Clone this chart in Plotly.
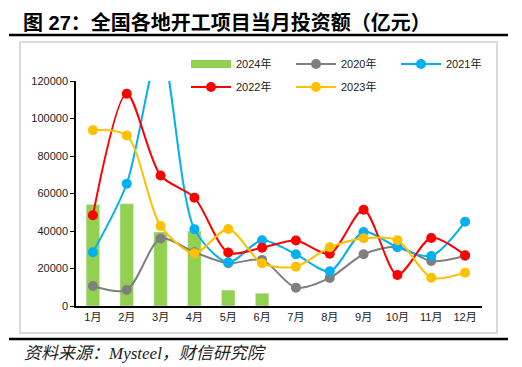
import plotly.graph_objects as go

months = ["1月", "2月", "3月", "4月", "5月", "6月", "7月", "8月", "9月", "10月", "11月", "12月"]
y2024 = [54100, 54500, 39500, 40000, 8500, 6800, None, None, None, None, None, None]
y2020 = [10700, 8500, 36000, 28700, 22800, 24600, 9800, 15000, 27600, 31600, 24000, 26700]
y2021 = [28700, 65200, 138000, 41000, 23300, 35100, 27600, 18500, 39500, 31300, 26700, 44900]
y2022 = [48400, 113200, 69600, 57800, 28500, 31100, 34900, 27900, 51300, 16600, 36300, 27100]
y2023 = [93800, 90900, 42700, 28100, 41100, 22800, 21000, 31300, 36100, 35100, 15100, 17800]

W, H = 522, 367
L, R, T, B = 76, 482, 81, 306
pw, ph = R - L, B - T

def px(x):
    return (x - L) / pw

def py(y):
    return (B - y) / ph

def cx(x):
    return x / W

def cy(y):
    return 1 - y / H

FONT = "Liberation Sans, Arial, Noto Sans CJK SC, sans-serif"
GREEN = "#92D050"

fig = go.Figure()
fig.add_trace(go.Bar(x=months, y=y2024, name="2024年", marker_color=GREEN,
                     showlegend=False, legendgroup="g2024"))
# legend entry for the bars, drawn as a wide green key like the original
fig.add_trace(go.Scatter(x=[months[0]], y=[None], name="2024年", mode="lines",
                         line=dict(color=GREEN, width=8), legend="legend",
                         legendgroup="g2024", hoverinfo="skip"))

def line(name, ys, color, leg):
    fig.add_trace(go.Scatter(x=months, y=ys, name=name, mode="lines+markers",
                             line=dict(color=color, width=2, shape="spline", smoothing=0.8),
                             marker=dict(color=color, size=10), legend=leg))

line("2020年", y2020, "#7F7F7F", "legend")
line("2021年", y2021, "#00B0F0", "legend")
line("2022年", y2022, "#FF0000", "legend2")
line("2023年", y2023, "#FFC000", "legend2")

legcommon = dict(orientation="h", xanchor="left", yanchor="middle", bgcolor="rgba(0,0,0,0)",
                 font=dict(family=FONT, size=11, color="#222"), entrywidth=50,
                 itemwidth=40, traceorder="normal", xref="container", yref="container")

fig.update_layout(
    width=W, height=H,
    margin=dict(l=L, r=W - R, t=T, b=H - B, pad=0, autoexpand=False),
    paper_bgcolor="white", plot_bgcolor="white",
    bargap=0.6,
    showlegend=True,
    legend=dict(x=cx(186), y=cy(64), **legcommon),
    legend2=dict(x=cx(186), y=cy(87), **legcommon),
    xaxis=dict(range=[-0.5, 11.5], showline=True, linecolor="black", linewidth=1.5, ticks="",
               tickfont=dict(family=FONT, size=11, color="#222"), showgrid=False),
    yaxis=dict(range=[0, 120000], dtick=20000, tickformat="d", showline=True,
               linecolor="black", linewidth=1.5, ticks="outside", ticklen=4,
               tickcolor="black", showgrid=False, zeroline=False,
               tickfont=dict(family=FONT, size=11, color="#222")),
    shapes=[
        dict(type="rect", xref="paper", yref="paper", x0=px(20), x1=px(497), y0=py(333), y1=py(42),
             line=dict(color="#D9D9D9", width=2), layer="below"),
        dict(type="line", xref="paper", yref="paper", x0=px(9), x1=px(508), y0=py(35), y1=py(35),
             line=dict(color="black", width=2.5)),
        dict(type="line", xref="paper", yref="paper", x0=px(9), x1=px(508), y0=py(339), y1=py(339),
             line=dict(color="black", width=2.5)),
    ],
    annotations=[
        dict(text="<b>图 27：全国各地开工项目当月投资额（亿元）</b>", xref="paper", yref="paper",
             x=px(21), y=py(23), xanchor="left", yanchor="middle", showarrow=False,
             font=dict(family="Liberation Sans, Noto Sans CJK SC, sans-serif", size=20, color="black")),
        dict(text="<i>资料来源：Mysteel，财信研究院</i>", xref="paper", yref="paper",
             x=px(22), y=py(353), xanchor="left", yanchor="middle", showarrow=False,
             font=dict(family="Liberation Serif, Noto Sans CJK SC, serif", size=17, color="#222")),
    ],
)

fig.write_html("out.html", config={"displayModeBar": False},
               post_script="document.body.style.margin='0px';document.body.style.overflow='hidden';")
